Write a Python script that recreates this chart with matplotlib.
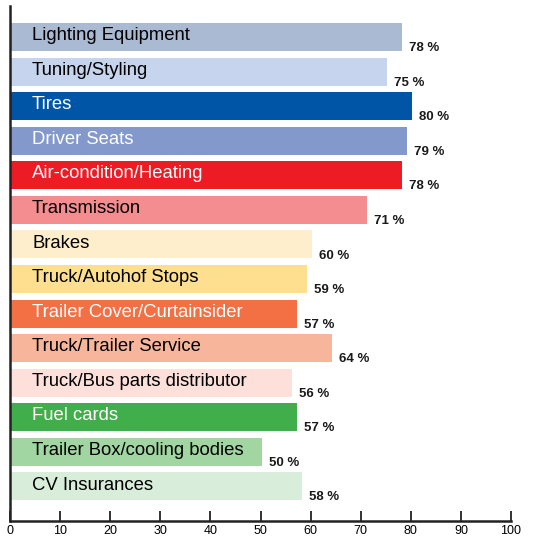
import matplotlib
matplotlib.use("Agg")
import matplotlib.pyplot as plt

plt.rcParams['font.family'] = ['Liberation Sans', 'DejaVu Sans']

# data
categories = ["Lighting Equipment", "Tuning/Styling", "Tires", "Driver Seats",
              "Air-condition/Heating", "Transmission", "Brakes",
              "Truck/Autohof Stops", "Trailer Cover/Curtainsider",
              "Truck/Trailer Service", "Truck/Bus parts distributor",
              "Fuel cards", "Trailer Box/cooling bodies", "CV Insurances"]
values = [78, 75, 80, 79, 78, 71, 60, 59, 57, 64, 56, 57, 50, 58]
colors = ["#AABAD2", "#C6D4EE", "#0055A6", "#8398CB", "#ED1C24", "#F48D8F",
          "#FEEECB", "#FEDF8F", "#F37044", "#F7B59C", "#FDE0D9", "#40AE4A",
          "#A1D5A1", "#D9EEDA"]
text_colors = ["black", "black", "white", "white", "white", "black", "black",
               "black", "white", "black", "black", "white", "black", "black"]
xticks = list(range(0, 101, 10))

fig = plt.figure(figsize=(5.52, 5.39), dpi=100)
ax = fig.add_axes([10 / 552, 1 - 521 / 539, 501 / 552, 515 / 539])

ypos = list(range(len(categories)))
ax.barh(ypos, values, height=0.81, color=colors, left=0.25)

for y, name, v, tc in zip(ypos, categories, values, text_colors):
    ax.text(4.4, y - 0.04, name, color=tc, fontsize=13.3, va="center", ha="left")
    ax.text(v + 1.7, y + 0.32, f"{v} %", fontsize=9.5, fontweight="bold",
            va="center", ha="left", color="#1a1a1a")

ax.set_xlim(0, 100)
ax.set_ylim(14.0, -0.9)
ax.set_xticks(xticks)
ax.set_yticks([])
ax.tick_params(axis="x", direction="in", length=7, width=1.3, labelsize=9,
               pad=3, color="#222222")
for s in ["top", "right"]:
    ax.spines[s].set_visible(False)
ax.spines["left"].set_linewidth(1.8)
ax.spines["bottom"].set_linewidth(1.8)
ax.spines["left"].set_color("#222222")
ax.spines["bottom"].set_color("#222222")

fig.savefig("out.png", dpi=100)
